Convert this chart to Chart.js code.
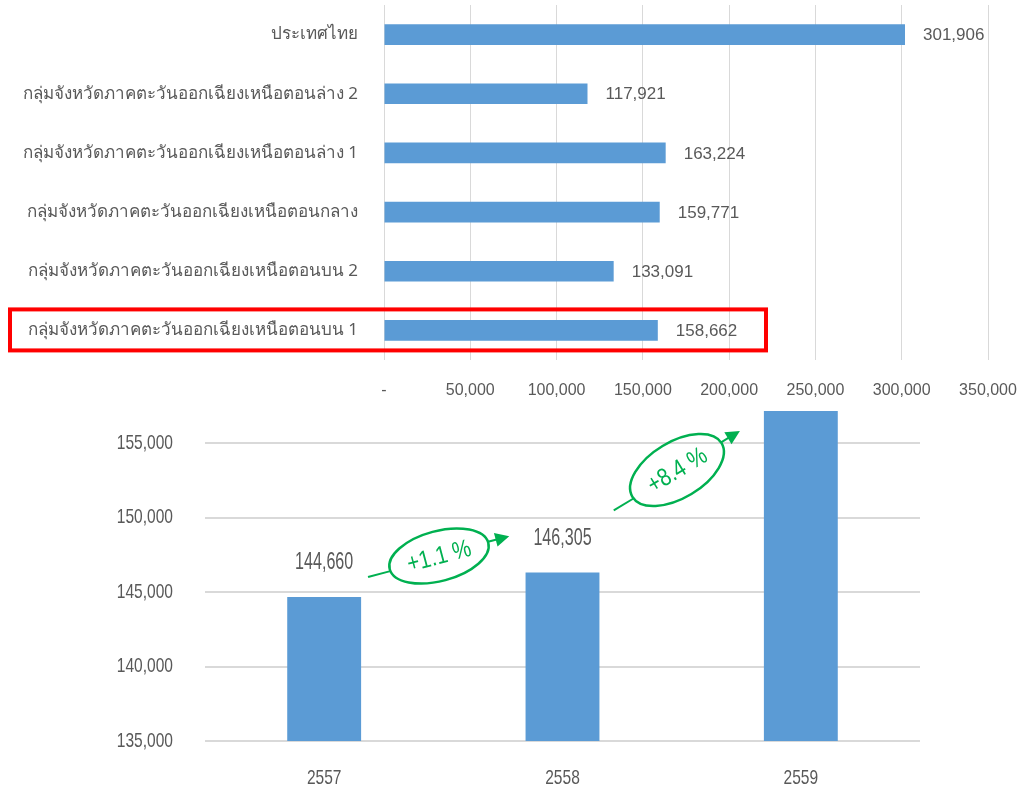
<!DOCTYPE html>
<html>
<head>
<meta charset="utf-8">
<script src="https://cdn.jsdelivr.net/npm/chart.js@4.4.1/dist/chart.umd.min.js"></script>
<style>
  html, body { margin: 0; padding: 0; background: #fff; }
  #wrap { position: relative; width: 1024px; height: 791px; overflow: hidden; }
  #topChart { position: absolute; left: 0; top: 0; }
  #bottomChart { position: absolute; left: 0; top: 411px; }
</style>
</head>
<body>
<div id="wrap">
  <canvas id="topChart" width="1024" height="411"></canvas>
  <canvas id="bottomChart" width="1024" height="380"></canvas>
</div>
<script>
// ข้อมูลกราฟแท่งแนวนอน
var regionNames = [
  'ประเทศไทย',
  'กลุ่มจังหวัดภาคตะวันออกเฉียงเหนือตอนล่าง 2',
  'กลุ่มจังหวัดภาคตะวันออกเฉียงเหนือตอนล่าง 1',
  'กลุ่มจังหวัดภาคตะวันออกเฉียงเหนือตอนกลาง',
  'กลุ่มจังหวัดภาคตะวันออกเฉียงเหนือตอนบน 2',
  'กลุ่มจังหวัดภาคตะวันออกเฉียงเหนือตอนบน 1'
];
var regionValues = [301906, 117921, 163224, 159771, 133091, 158662];
var regionTicks = [0, 50000, 100000, 150000, 200000, 250000, 300000, 350000];

// ข้อมูลกราฟแท่งแนวตั้ง
var years = ['2557', '2558', '2559'];
var yearValues = [144660, 146305, 158662];
var yearTicks = [135000, 140000, 145000, 150000, 155000];
var growthLabels = ['+1.1 %', '+8.4 %'];

var barColor = '#5b9bd5';
var textColor = '#595959';
var gridColor = '#d9d9d9';
var green = '#00b050';
var thaiFont = '"Noto Sans", "DejaVu Sans", sans-serif';
var numFont = '"Liberation Sans", sans-serif';

function fmt(v) {
  return v.toLocaleString('en-US');
}

// ตัวหนังสือแบบแคบ (บีบแนวนอน)
function narrowText(c, text, x, y, size, align, k) {
  c.save();
  c.translate(x, y);
  c.scale(k || 0.74, 1);
  c.font = size + 'px ' + numFont;
  c.textAlign = align;
  c.textBaseline = 'middle';
  c.fillText(text, 0, 0);
  c.restore();
}

function noPad(s) {
  s.paddingLeft = 0;
  s.paddingRight = 0;
  s.paddingTop = 0;
  s.paddingBottom = 0;
}

// ตัวเลขท้ายแท่ง + กรอบสีแดง
var topLabelsPlugin = {
  id: 'topLabels',
  afterDatasetsDraw: function (chart) {
    var c = chart.ctx;
    var meta = chart.getDatasetMeta(0);
    c.save();
    c.font = '17px ' + numFont;
    c.fillStyle = textColor;
    c.textAlign = 'left';
    c.textBaseline = 'middle';
    meta.data.forEach(function (bar, i) {
      c.fillText(fmt(regionValues[i]), bar.x + 18, bar.y + 1);
    });
    // กรอบแดงรอบกลุ่มจังหวัดตอนบน 1
    var y = chart.scales.y.getPixelForValue(regionNames.length - 1);
    c.strokeStyle = '#ff0000';
    c.lineWidth = 4;
    c.strokeRect(10, y - 21, 756, 41);
    c.restore();
  }
};

new Chart(document.getElementById('topChart').getContext('2d'), {
  type: 'bar',
  data: {
    labels: regionNames,
    datasets: [{
      data: regionValues,
      backgroundColor: barColor,
      categoryPercentage: 0.35,
      barPercentage: 1
    }]
  },
  options: {
    indexAxis: 'y',
    responsive: false,
    animation: false,
    layout: { padding: { top: 5, right: 36, bottom: 12, left: 0 } },
    plugins: { legend: { display: false }, tooltip: { enabled: false } },
    scales: {
      x: {
        min: 0,
        max: 350000,
        afterBuildTicks: function (s) { s.ticks = regionTicks.map(function (v) { return { value: v }; }); },
        afterFit: function (s) { s.height = 39; noPad(s); },
        grid: { color: gridColor, drawTicks: false },
        border: { display: false },
        ticks: {
          padding: 21,
          maxRotation: 0,
          color: textColor,
          font: { family: numFont, size: 16 },
          callback: function (v) { return v === 0 ? '-' : fmt(v); }
        }
      },
      y: {
        afterFit: function (s) { s.width = 384; noPad(s); },
        grid: { display: false, drawTicks: false },
        border: { display: false },
        ticks: {
          padding: 26,
          color: textColor,
          font: { family: thaiFont, size: 17 }
        }
      }
    }
  },
  plugins: [topLabelsPlugin]
});

// ป้ายแกน ตัวเลขบนแท่ง และวงรีอัตราการเติบโต
var bottomLabelsPlugin = {
  id: 'bottomLabels',
  afterDatasetsDraw: function (chart) {
    var c = chart.ctx;
    var area = chart.chartArea;
    var xs = chart.scales.x;
    var ys = chart.scales.y;
    var meta = chart.getDatasetMeta(0);
    c.save();
    c.fillStyle = textColor;

    yearTicks.forEach(function (v) {
      narrowText(c, fmt(v), area.left - 32, ys.getPixelForValue(v), 21, 'right');
    });
    years.forEach(function (t, i) {
      narrowText(c, t, xs.getPixelForValue(i), area.bottom + 37, 21, 'center');
    });
    meta.data.forEach(function (bar, i) {
      var ty = bar.y - 34;
      if (ty > area.top + 10) narrowText(c, fmt(yearValues[i]), bar.x, ty, 23, 'center', 0.7);
    });

    var shapes = [
      { cx: 439, cy: 145, rx: 51, ry: 25, ang: -15, text: growthLabels[0] },
      { cx: 677, cy: 59, rx: 52, ry: 28, ang: -31, text: growthLabels[1] }
    ];
    shapes.forEach(function (s) {
      var a = s.ang * Math.PI / 180;
      c.save();
      c.translate(s.cx, s.cy);
      c.rotate(a);
      c.strokeStyle = green;
      c.fillStyle = green;
      c.lineWidth = 2.5;
      c.beginPath();
      c.ellipse(0, 0, s.rx, s.ry, 0, 0, Math.PI * 2);
      c.stroke();
      // หางลูกศร
      c.lineWidth = 2;
      c.beginPath();
      c.moveTo(-s.rx - 23, 2);
      c.lineTo(-s.rx, 2);
      c.stroke();
      // ลูกศร
      c.beginPath();
      c.moveTo(s.rx, -1);
      c.lineTo(s.rx + 10, -1);
      c.stroke();
      c.beginPath();
      c.moveTo(s.rx + 22, -1);
      c.lineTo(s.rx + 8, -8);
      c.lineTo(s.rx + 8, 6);
      c.closePath();
      c.fill();
      narrowText(c, s.text, 0, 1, 25, 'center', 0.83);
      c.restore();
    });
    c.restore();
  }
};

new Chart(document.getElementById('bottomChart').getContext('2d'), {
  type: 'bar',
  data: {
    labels: years,
    datasets: [{
      data: yearValues,
      backgroundColor: barColor,
      categoryPercentage: 0.31,
      barPercentage: 1
    }]
  },
  options: {
    responsive: false,
    animation: false,
    layout: { padding: { top: 0, right: 104, bottom: 0, left: 0 } },
    plugins: { legend: { display: false }, tooltip: { enabled: false } },
    scales: {
      x: {
        afterFit: function (s) { s.height = 50; noPad(s); },
        grid: { display: false, drawTicks: false },
        border: { display: false },
        ticks: { display: false }
      },
      y: {
        min: 135000,
        max: 157150,
        afterFit: function (s) { s.width = 205; noPad(s); },
        afterBuildTicks: function (s) { s.ticks = yearTicks.map(function (v) { return { value: v }; }); },
        grid: { color: gridColor, lineWidth: 2, drawTicks: false },
        border: { display: false },
        ticks: { display: false }
      }
    }
  },
  plugins: [bottomLabelsPlugin]
});
</script>
</body>
</html>
